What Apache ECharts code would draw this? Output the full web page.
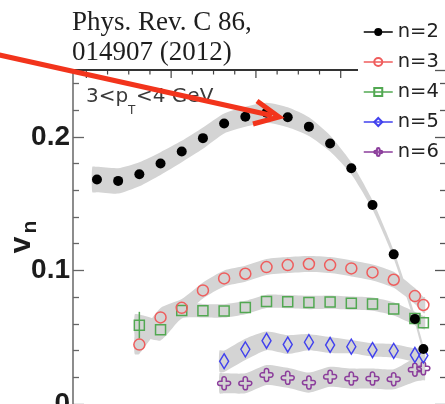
<!DOCTYPE html>
<html><head><meta charset="utf-8">
<script src="https://cdn.jsdelivr.net/npm/echarts@6/dist/echarts.min.js"></script>
<style>html,body{margin:0;padding:0;background:#fff}#c{width:445px;height:404px}</style>
</head><body><div id="c"></div>
<script>
// ---- data ----
var seriesNames = ['n=2', 'n=3', 'n=4', 'n=5', 'n=6'];

var xN2 = [0.5, 1.5, 2.5, 3.5, 4.5, 5.5, 6.5, 7.5, 8.5, 9.5, 10.5, 11.5, 12.5, 13.5, 14.5, 15.5, 15.9];
var vN2 = [0.168, 0.167, 0.172, 0.180, 0.189, 0.199, 0.210, 0.215, 0.218, 0.2146, 0.2076, 0.195, 0.1764, 0.149, 0.112, 0.0637, 0.0412];
var sN2 = [0.0095, 0.0095, 0.009, 0.0085, 0.008, 0.008, 0.0075, 0.0075, 0.0075, 0.0075, 0.007, 0.006, 0.0045, 0.0035, 0.003, 0.003, 0.003];

var xN3 = [2.5, 3.5, 4.5, 5.5, 6.5, 7.5, 8.5, 9.5, 10.5, 11.5, 12.5, 13.5, 14.5, 15.5, 15.9];
var vN3 = [0.0445, 0.0648, 0.072, 0.085, 0.094, 0.0975, 0.1025, 0.104, 0.1048, 0.104, 0.1015, 0.0985, 0.093, 0.0808, 0.0741];
var sN3 = [0.007, 0.007, 0.0065, 0.006, 0.006, 0.006, 0.006, 0.006, 0.006, 0.006, 0.006, 0.006, 0.006, 0.006, 0.006];

var xN4 = [2.5, 3.5, 4.5, 5.5, 6.5, 7.5, 8.5, 9.5, 10.5, 11.5, 12.5, 13.5, 14.5, 15.5, 15.9];
var vN4 = [0.059, 0.0556, 0.070, 0.0698, 0.0697, 0.0722, 0.0768, 0.0766, 0.076, 0.0763, 0.0755, 0.0748, 0.0712, 0.064, 0.0609];
var sN4 = [0.008, 0.008, 0.006, 0.005, 0.005, 0.005, 0.005, 0.005, 0.005, 0.005, 0.005, 0.005, 0.005, 0.005, 0.005];
var errN4 = {x: [2.5], lo: [0.049], hi: [0.069]};

var xN5 = [6.5, 7.5, 8.5, 9.5, 10.5, 11.5, 12.5, 13.5, 14.5, 15.5, 15.9];
var vN5 = [0.032, 0.0409, 0.0473, 0.0445, 0.0463, 0.0442, 0.0429, 0.0404, 0.0398, 0.0367, 0.0363];
var sN5 = [0.008, 0.008, 0.007, 0.007, 0.006, 0.006, 0.005, 0.005, 0.005, 0.005, 0.005];

var xN6 = [6.5, 7.5, 8.5, 9.5, 10.5, 11.5, 12.5, 13.5, 14.5, 15.5, 15.9];
var vN6 = [0.0155, 0.0155, 0.0217, 0.0196, 0.016, 0.0204, 0.019, 0.019, 0.0185, 0.0257, 0.0267];
var sN6 = [0.0075, 0.0075, 0.0075, 0.0075, 0.0075, 0.0075, 0.0075, 0.0075, 0.0075, 0.009, 0.009];

var yTickLabels = [0, 0.1, 0.2];
var xMajorTicks = [0, 4, 8, 12];
var xMinorTicks = [1, 2, 3, 5, 6, 7, 9, 10, 11];

// ---- helpers ----
var xMin = -0.63, xMax = 16.92, yMin = 0, yMax = 0.25;
var frameEnd = 12.82; // the top frame disappears behind the legend there

function pairs(xs, vs) { return xs.map(function (x, i) { return [x, vs[i]]; }); }

function band(xs, vs, ss) {
  return {
    type: 'custom', silent: true, z: 1, xAxisIndex: 0, yAxisIndex: 0,
    data: [[xs[0], vs[0]]],
    renderItem: function (params, api) {
      var n = xs.length, ext = 0.22, up = [], lo = [];
      up.push(api.coord([xs[0] - ext, vs[0] + ss[0]]));
      lo.push(api.coord([xs[0] - ext, vs[0] - ss[0]]));
      for (var i = 0; i < n; i++) {
        up.push(api.coord([xs[i], vs[i] + ss[i]]));
        lo.push(api.coord([xs[i], vs[i] - ss[i]]));
      }
      up.push(api.coord([xs[n - 1] + 0.08, vs[n - 1] + ss[n - 1]]));
      lo.push(api.coord([xs[n - 1] + 0.08, vs[n - 1] - ss[n - 1]]));
      return {type: 'polygon', shape: {points: up.concat(lo.reverse()), smooth: 0.2},
              style: {fill: '#d4d4d4'}};
    }
  };
}

// top frame ticks placed through the x scale
var topTicks = {
  type: 'custom', silent: true, z: 5, xAxisIndex: 0, yAxisIndex: 0, clip: false,
  data: xMajorTicks.map(function (t) { return [t, 1]; }).concat(xMinorTicks.map(function (t) { return [t, 2]; })),
  renderItem: function (params, api) {
    var p = api.coord([api.value(0), yMax]);
    var len = api.value(1) === 1 ? 8 : 4.5;
    return {type: 'rect', shape: {x: p[0] - 0.6, y: p[1], width: 1.2, height: len}, style: {fill: '#444'}};
  }
};

var cRed = '#ef5d5d', cGreen = '#52a852', cBlue = '#4141ee', cPurple = '#8b3d9b';
var plusPath = 'path://M4,4 L4,2 A2,2 0 0 1 8,2 L8,4 L10,4 A2,2 0 0 1 10,8 L8,8 L8,10 A2,2 0 0 1 4,10 L4,8 L2,8 A2,2 0 0 1 2,4 Z';

function pts(name, xs, vs, sym, size, color, filled, z) {
  return {
    name: name, type: 'line', xAxisIndex: 0, yAxisIndex: 0, z: z,
    data: pairs(xs, vs), symbol: sym, symbolSize: size, showSymbol: true,
    lineStyle: {opacity: 0, width: 1.5, color: color},
    itemStyle: filled ? {color: color} : {color: 'rgba(0,0,0,0)', borderColor: color, borderWidth: 1.5},
    emphasis: {disabled: true}, animation: false
  };
}

var chart = echarts.init(document.getElementById('c'), null, {renderer: 'canvas'});

var option = {
  animation: false,
  backgroundColor: '#fff',
  grid: {left: 73, right: 0, top: 70, bottom: 0, containLabel: false, outerBoundsMode: 'none', show: false},
  xAxis: [
    {type: 'value', min: xMin, max: xMax,
     axisLine: {show: false, onZero: false}, axisTick: {show: false},
     axisLabel: {show: false}, splitLine: {show: false}}
  ],
  yAxis: [
    {type: 'value', position: 'left', min: yMin, max: yMax, interval: 0.1,
     axisLine: {show: true, onZero: false, lineStyle: {color: '#707070', width: 1.6}},
     axisTick: {show: true, inside: true, length: 11, lineStyle: {color: '#666', width: 1.3}},
     minorTick: {show: true, splitNumber: 5, length: 6, lineStyle: {color: '#666', width: 1.3}},
     axisLabel: {show: true, margin: 3, fontFamily: 'Liberation Sans', fontWeight: 'bold', fontSize: 28, color: '#1c1c1c',
                 customValues: yTickLabels, formatter: function (v) { return String(v); }},
     splitLine: {show: false}, minorSplitLine: {show: false}},
    {type: 'value', position: 'right', min: yMin, max: yMax, interval: 0.1,
     axisLine: {show: false, onZero: false},
     axisTick: {show: true, inside: true, length: 10, lineStyle: {color: '#555', width: 1.3}},
     minorTick: {show: true, splitNumber: 5, length: 5, lineStyle: {color: '#555', width: 1.3}},
     axisLabel: {show: false}, splitLine: {show: false}, minorSplitLine: {show: false}}
  ],
  legend: {
    orient: 'vertical', left: 363, top: 22, padding: 0, itemWidth: 29, itemHeight: 10, itemGap: 10, z: 20,
    selectedMode: false,
    textStyle: {fontFamily: 'DejaVu Sans', fontSize: 19.5, color: '#222'},
    data: [
      {name: 'n=2', lineStyle: {opacity: 1, width: 1.5, color: '#000'}},
      {name: 'n=3', lineStyle: {opacity: 1, width: 1.5, color: cRed}},
      {name: 'n=4', lineStyle: {opacity: 1, width: 1.5, color: cGreen}},
      {name: 'n=5', lineStyle: {opacity: 1, width: 1.5, color: cBlue}},
      {name: 'n=6', lineStyle: {opacity: 1, width: 1.5, color: cPurple}}
    ]
  },
  graphic: [
    {type: 'line', z: 90, shape: {x1: 72.2, y1: 70, x2: 358, y2: 70}, style: {stroke: '#333', lineWidth: 2}},
    {type: 'text', z: 30, x: 72, y: 23, style: {text: 'Phys. Rev. C 86,', font: '27px "Liberation Serif"', fill: '#1e1e1e', textVerticalAlign: 'middle'}},
    {type: 'text', z: 30, x: 72, y: 53, style: {text: '014907 (2012)', font: '27px "Liberation Serif"', fill: '#1e1e1e', textVerticalAlign: 'middle'}},
    {type: 'text', z: 30, x: 86, y: 97, style: {text: '3<p', font: '20px "DejaVu Sans"', fill: '#3a3a3a', textVerticalAlign: 'middle'}},
    {type: 'text', z: 30, x: 128, y: 111, style: {text: 'T', font: '12px "DejaVu Sans"', fill: '#3a3a3a', textVerticalAlign: 'middle'}},
    {type: 'text', z: 30, x: 136, y: 97, style: {text: '<4 GeV', font: '20px "DejaVu Sans"', fill: '#3a3a3a', textVerticalAlign: 'middle'}},
    {type: 'text', z: 30, x: 22, y: 245, rotation: Math.PI / 2, style: {text: 'v', font: 'bold 30px "Liberation Sans"', fill: '#1c1c1c', textAlign: 'center', textVerticalAlign: 'middle'}},
    {type: 'text', z: 30, x: 30, y: 227, rotation: Math.PI / 2, style: {text: 'n', font: 'bold 21px "Liberation Sans"', fill: '#1c1c1c', textAlign: 'center', textVerticalAlign: 'middle'}},
    {type: 'polyline', z: 100, shape: {points: [[-5, 54], [272, 115.5]]}, style: {stroke: '#f2341c', lineWidth: 5, lineCap: 'butt'}},
    {type: 'polyline', z: 100, shape: {points: [[257, 101], [279, 117], [253, 124]]}, style: {stroke: '#f2341c', lineWidth: 5, lineJoin: 'miter', fill: null}}
  ],
  series: [
    band(xN2, vN2, sN2), band(xN3, vN3, sN3), band(xN4, vN4, sN4), band(xN5, vN5, sN5), band(xN6, vN6, sN6),
    topTicks,
    {type: 'custom', silent: true, z: 2, xAxisIndex: 0, yAxisIndex: 0,
     data: errN4.x.map(function (x, i) { return [x, errN4.lo[i], errN4.hi[i]]; }),
     renderItem: function (params, api) {
       var a = api.coord([api.value(0), api.value(1)]), b = api.coord([api.value(0), api.value(2)]);
       return {type: 'line', shape: {x1: a[0], y1: a[1], x2: b[0], y2: b[1]}, style: {stroke: cGreen, lineWidth: 1.5}};
     }},
    pts('n=6', xN6, vN6, plusPath, 13, cPurple, false, 3),
    pts('n=5', xN5, vN5, 'diamond', [9, 15], cBlue, false, 3),
    pts('n=4', xN4, vN4, 'rect', 10, cGreen, false, 3),
    pts('n=3', xN3, vN3, 'circle', 11, cRed, false, 3),
    pts('n=2', xN2, vN2, 'circle', 10, '#000', true, 4)
  ]
};
chart.setOption(option);
</script></body></html>
